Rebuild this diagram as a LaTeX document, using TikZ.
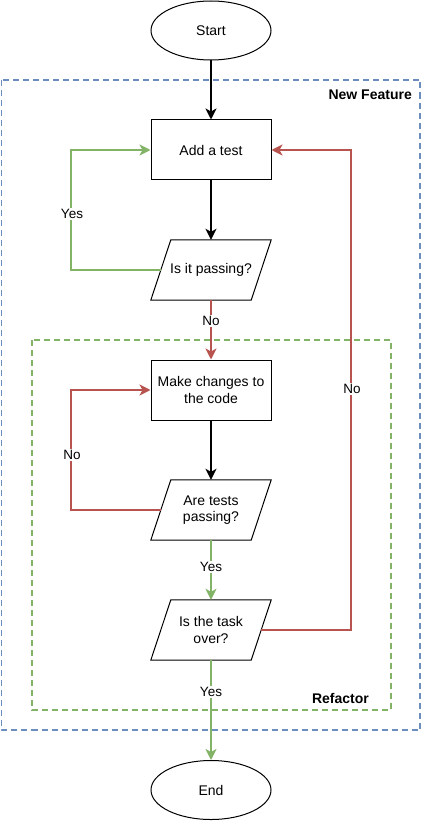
\documentclass[tikz,border=0pt]{standalone}
\usepackage{fontspec}
\setmainfont{Liberation Sans}
\usetikzlibrary{arrows.meta,shapes.geometric,calc}
\definecolor{dblue}{HTML}{6C8EBF}
\definecolor{dgreen}{HTML}{82B366}
\definecolor{dred}{HTML}{B85450}
\tikzset{
  box/.style={draw=black, line width=1pt, minimum width=120pt, minimum height=60pt, inner sep=2pt, align=center, font=\fontsize{14}{16.5}\selectfont},
  term/.style={draw=black, line width=1pt, ellipse, minimum width=120pt, minimum height=59pt, inner sep=0pt, font=\fontsize{14}{16.5}\selectfont},
  para/.style={draw=none, minimum width=100pt, minimum height=60pt, inner sep=0pt, align=center, font=\fontsize{14}{16.5}\selectfont},
  paraline/.style={draw=black, line width=1pt, line join=miter},
  conn/.style={line width=2pt, -{Stealth[length=11pt, width=11pt, inset=3pt]}},
  elabel/.style={fill=white, text=black, inner sep=1pt, font=\fontsize{13.5}{16}\selectfont},
  group/.style={line width=1.6pt, dash pattern=on 6pt off 4pt},
  gtitle/.style={font=\bfseries\fontsize{14}{16}\selectfont, inner sep=0pt}
}
\begin{document}
\begin{tikzpicture}[x=1pt,y=-1pt]
\useasboundingbox (0,0) rectangle (423,821);
% groups
\draw[group, draw=dblue] (1.5,80) rectangle (420,730);
\node[gtitle, anchor=east] (nf) at (412,95) {New Feature};
\draw[group, draw=dgreen] (32,340) rectangle (391,710);
\node[gtitle, anchor=east] (rf) at (369,698) {Refactor};
% nodes
\node[term] (start) at (211,30.5) {Start};
\node[box] (add) at (211,150) {Add a test};
\node[para] (p1) at (211,270) {Is it passing?};
\node[box] (mk) at (211,390) {Make changes to\\the code};
\node[para] (p2) at (211,510) {Are tests\\passing?};
\node[para] (p3) at (211,630) {Is the task\\over?};
\node[term] (end) at (211,790) {End};
\foreach \p in {p1,p2,p3}{
  \draw[paraline] ([xshift=10pt]\p.north west) -- ([xshift=10pt]\p.north east)
     -- ([xshift=-10pt]\p.south east) -- ([xshift=-10pt]\p.south west) -- cycle;
}
% connectors
\draw[conn, black] (start.south) -- (add.north);
\draw[conn, black] (add.south) -- (p1.north);
\coordinate (g1) at (71,270);
\draw[conn, dgreen] (p1.west) -- (g1) |- (add.west);
\node[elabel] (yes1) at (72,214) {Yes};
\draw[conn, dred] (p1.south) -- node[elabel, pos=0.35] (no1) {No} (mk.north);
\draw[conn, black] (mk.south) -- (p2.north);
\coordinate (r1) at (71,510);
\draw[conn, dred] (p2.west) -- (r1) |- (mk.west);
\node[elabel] (no2) at (72,455) {No};
\draw[conn, dgreen] (p2.south) -- node[elabel, pos=0.45] (yes2) {Yes} (p3.north);
\coordinate (r2) at (351,630);
\draw[conn, dred] (p3.east) -- (r2) |- (add.east);
\node[elabel] (no3) at (352,389) {No};
\draw[conn, dgreen] (p3.south) -- node[elabel, pos=0.32] (yes3) {Yes} (end.north);
\end{tikzpicture}
\end{document}
